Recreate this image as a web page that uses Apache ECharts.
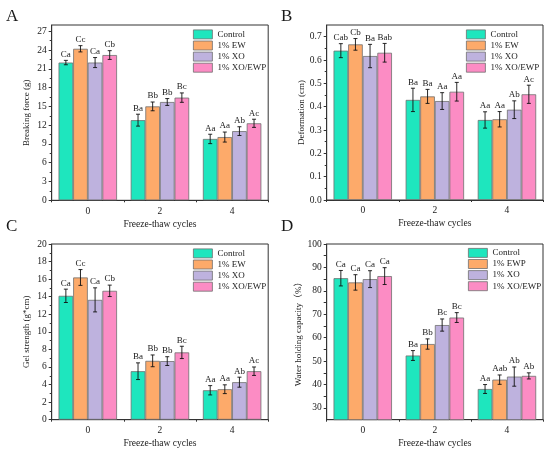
<!DOCTYPE html>
<html>
<head>
<meta charset="utf-8">
<script src="https://cdn.jsdelivr.net/npm/echarts@6/dist/echarts.min.js"></script>
<style>
html,body{margin:0;padding:0;background:#fff;}
#chart{width:550px;height:455px;}
</style>
</head>
<body>
<div id="chart"></div>
<script>
// ---------- data ----------
const cycles = ['0', '2', '4'];
const namesABC = ['Control', '1% EW', '1% XO', '1% XO/EWP'];
const namesD = ['Control', '1% EWP', '1% XO', '1% XO/EWP'];

// A: Breaking force (g)  rows = treatments, cols = cycles
const forceMean = [[22.0, 12.8, 9.8], [24.2, 15.0, 10.1], [22.0, 15.7, 11.05], [23.2, 16.4, 12.3]];
const forceErr = [[0.35, 0.95, 0.75], [0.5, 0.7, 0.8], [0.8, 0.55, 0.7], [0.7, 0.75, 0.65]];
const forceLetters = [['Ca', 'Ba', 'Aa'], ['Cc', 'Bb', 'Aa'], ['Ca', 'Bb', 'Ab'], ['Cb', 'Bc', 'Ac']];
const forceTicks = [0, 3, 6, 9, 12, 15, 18, 21, 24, 27];

// B: Deformation (cm)
const deformMean = [[0.640, 0.429, 0.343], [0.667, 0.444, 0.346], [0.617, 0.424, 0.387], [0.631, 0.464, 0.453]];
const deformErr = [[0.03, 0.05, 0.035], [0.025, 0.03, 0.033], [0.05, 0.036, 0.038], [0.04, 0.04, 0.039]];
const deformLetters = [['Cab', 'Ba', 'Aa'], ['Cb', 'Ba', 'Aa'], ['Ba', 'Aa', 'Ab'], ['Bab', 'Aa', 'Ac']];
const deformTicks = [0, 0.1, 0.2, 0.3, 0.4, 0.5, 0.6, 0.7];

// C: Gel strength (g*cm)
const gelMean = [[14.1, 5.52, 3.35], [16.19, 6.7, 3.47], [13.64, 6.67, 4.27], [14.67, 7.66, 5.52]];
const gelErr = [[0.76, 0.95, 0.53], [0.9, 0.67, 0.5], [1.37, 0.5, 0.57], [0.65, 0.7, 0.48]];
const gelLetters = [['Ca', 'Ba', 'Aa'], ['Cc', 'Bb', 'Aa'], ['Ca', 'Bb', 'Ab'], ['Cb', 'Bc', 'Ac']];
const gelTicks = [0, 2, 4, 6, 8, 10, 12, 14, 16, 18, 20];

// D: Water holding capacity (%)
const whcMean = [[85.4, 52.4, 38.1], [83.6, 57.3, 42.1], [85.0, 65.4, 43.4], [86.3, 68.6, 43.7]];
const whcErr = [[3.3, 2.1, 1.9], [3.3, 2.2, 2.0], [3.6, 2.6, 4.1], [3.6, 2.1, 1.3]];
const whcLetters = [['Ca', 'Ba', 'Aa'], ['Ca', 'Bb', 'Aab'], ['Ca', 'Bc', 'Ab'], ['Ca', 'Bc', 'Ab']];
const whcTicks = [30, 40, 50, 60, 70, 80, 90, 100];
const whcMinorTicks = [30, 35, 40, 45, 50, 55, 60, 65, 70, 75, 80, 85, 90, 95, 100];

// ---------- styling ----------
const colors = ['#1ee6be', '#fdaa6a', '#beb2de', '#fc8cc4'];
const FONT = '"Liberation Serif", "Times New Roman", "Noto Sans CJK SC", serif';
const INK = '#1a1a1a';
const GAP = 0.19;

const panels = [
  { letter: 'A', grid: { left: 51.7, top: 25, width: 216.5, height: 175.3 }, min: 0, max: 28, interval: 3, minor: true,
    ticks: forceTicks, tickVals: forceTicks, fmt: v => String(v), yName: 'Breaking force (g)',
    mean: forceMean, err: forceErr, letters: forceLetters, names: namesABC, legend: { left: 193, top: 29.5 }, lx: 6, ly: 8 },
  { letter: 'B', grid: { left: 326.7, top: 25, width: 216.3, height: 175 }, min: 0, max: 0.75, interval: 0.1, minor: true,
    ticks: deformTicks, tickVals: deformTicks, fmt: v => v.toFixed(1), yName: 'Deformation (cm)',
    mean: deformMean, err: deformErr, letters: deformLetters, names: namesABC, legend: { left: 466, top: 29.5 }, lx: 281, ly: 8 },
  { letter: 'C', grid: { left: 51.7, top: 244, width: 216.5, height: 175.7 }, min: 0, max: 20, interval: 2, minor: true,
    ticks: gelTicks, tickVals: gelTicks, fmt: v => String(v), yName: 'Gel strength (g*cm)',
    mean: gelMean, err: gelErr, letters: gelLetters, names: namesABC, legend: { left: 193, top: 248.5 }, lx: 6, ly: 218 },
  { letter: 'D', grid: { left: 326.7, top: 244, width: 216.3, height: 175.7 }, min: 25, max: 100, interval: 5, minor: false,
    ticks: whcTicks, tickVals: whcMinorTicks, fmt: v => String(v), yName: 'Water holding capacity\uff08%\uff09',
    mean: whcMean, err: whcErr, letters: whcLetters, names: namesD, legend: { left: 468, top: 248 }, lx: 281, ly: 218 }
];

const grid = [], xAxis = [], yAxis = [], series = [], legend = [], graphic = [];

panels.forEach((p, pi) => {
  grid.push(Object.assign({ show: true, borderColor: '#333', borderWidth: 1, containLabel: false }, p.grid));
  xAxis.push({
    type: 'category', gridIndex: pi, data: cycles, position: 'bottom',
    axisLine: { onZero: false, lineStyle: { color: '#333', width: 1 } },
    axisTick: { alignWithLabel: true, length: 3, lineStyle: { color: '#333' } },
    axisLabel: { color: INK, fontFamily: FONT, fontSize: 9.5, margin: 6 },
    name: 'Freeze-thaw cycles', nameLocation: 'middle', nameGap: 19,
    nameTextStyle: { color: INK, fontFamily: FONT, fontSize: 9.5 },
    splitLine: { show: false }
  });
  yAxis.push({
    type: 'value', gridIndex: pi, min: p.min, max: p.max, interval: p.interval,
    axisLine: { show: true, lineStyle: { color: '#333', width: 1 } },
    axisTick: { show: true, length: 3, customValues: p.tickVals, lineStyle: { color: '#333' } },
    minorTick: { show: p.minor, splitNumber: 2, length: 2, lineStyle: { color: '#333' } },
    axisLabel: { color: INK, fontFamily: FONT, fontSize: 9.5, margin: 5, customValues: p.ticks, formatter: p.fmt },
    splitLine: { show: false }, minorSplitLine: { show: false },
    name: p.yName, nameLocation: 'middle', nameGap: 21, nameRotate: 90,
    nameTextStyle: { color: INK, fontFamily: FONT, fontSize: 9 }
  });
  p.names.forEach((nm, k) => {
    series.push({
      type: 'bar', name: nm, xAxisIndex: pi, yAxisIndex: pi,
      data: p.mean[k], barGap: '0%', barCategoryGap: (GAP * 100) + '%',
      itemStyle: { color: colors[k], borderColor: '#707070', borderWidth: 0.8 },
      emphasis: { disabled: true }, z: 2
    });
    series.push({
      type: 'custom', xAxisIndex: pi, yAxisIndex: pi, z: 5,
      data: p.mean[k].map((m, i) => [i, m, p.err[k][i]]),
      encode: { x: 0, y: 1 },
      renderItem: (params, api) => {
        const ci = api.value(0), m = api.value(1), e = api.value(2);
        const band = api.size([1, 0])[0];
        const bw = band * (1 - GAP) / 4;
        const c = api.coord([ci, m]);
        const x = c[0] + (k - 1.5) * bw;
        const yTop = api.coord([ci, m + e])[1];
        const yBot = api.coord([ci, m - e])[1];
        const cap = 2;
        const st = { stroke: '#111', lineWidth: 0.9 };
        return {
          type: 'group', children: [
            { type: 'line', shape: { x1: x, y1: yTop, x2: x, y2: yBot }, style: st },
            { type: 'line', shape: { x1: x - cap, y1: yTop, x2: x + cap, y2: yTop }, style: st },
            { type: 'line', shape: { x1: x - cap, y1: yBot, x2: x + cap, y2: yBot }, style: st },
            { type: 'text', style: { text: p.letters[k][params.dataIndex], x: x, y: yTop - 1.5,
              align: 'center', verticalAlign: 'bottom', font: '9px ' + FONT, fill: INK } }
          ]
        };
      }
    });
  });
  legend.push({
    data: p.names, orient: 'vertical', left: p.legend.left, top: p.legend.top, padding: 0,
    itemWidth: 19, itemHeight: 9, itemGap: 1.3, icon: 'rect', selectedMode: false,
    itemStyle: { borderColor: '#707070', borderWidth: 0.8 },
    textStyle: { color: INK, fontFamily: FONT, fontSize: 9 }
  });
  graphic.push({ type: 'text', left: p.lx, top: p.ly, style: { text: p.letter, font: '17px ' + FONT, fill: INK } });
});

// secondary x axes: small ticks at category boundaries
panels.forEach((p, pi) => {
  xAxis.push({
    type: 'category', gridIndex: pi, data: cycles, position: 'bottom',
    axisLine: { show: false, onZero: false },
    axisTick: { show: true, alignWithLabel: false, length: 2, lineStyle: { color: '#333' } },
    axisLabel: { show: false }, splitLine: { show: false }
  });
});

const chart = echarts.init(document.getElementById('chart'), null, { renderer: 'canvas' });
chart.setOption({ animation: false, backgroundColor: '#fff', grid, xAxis, yAxis, series, legend, graphic });
</script>
</body>
</html>
